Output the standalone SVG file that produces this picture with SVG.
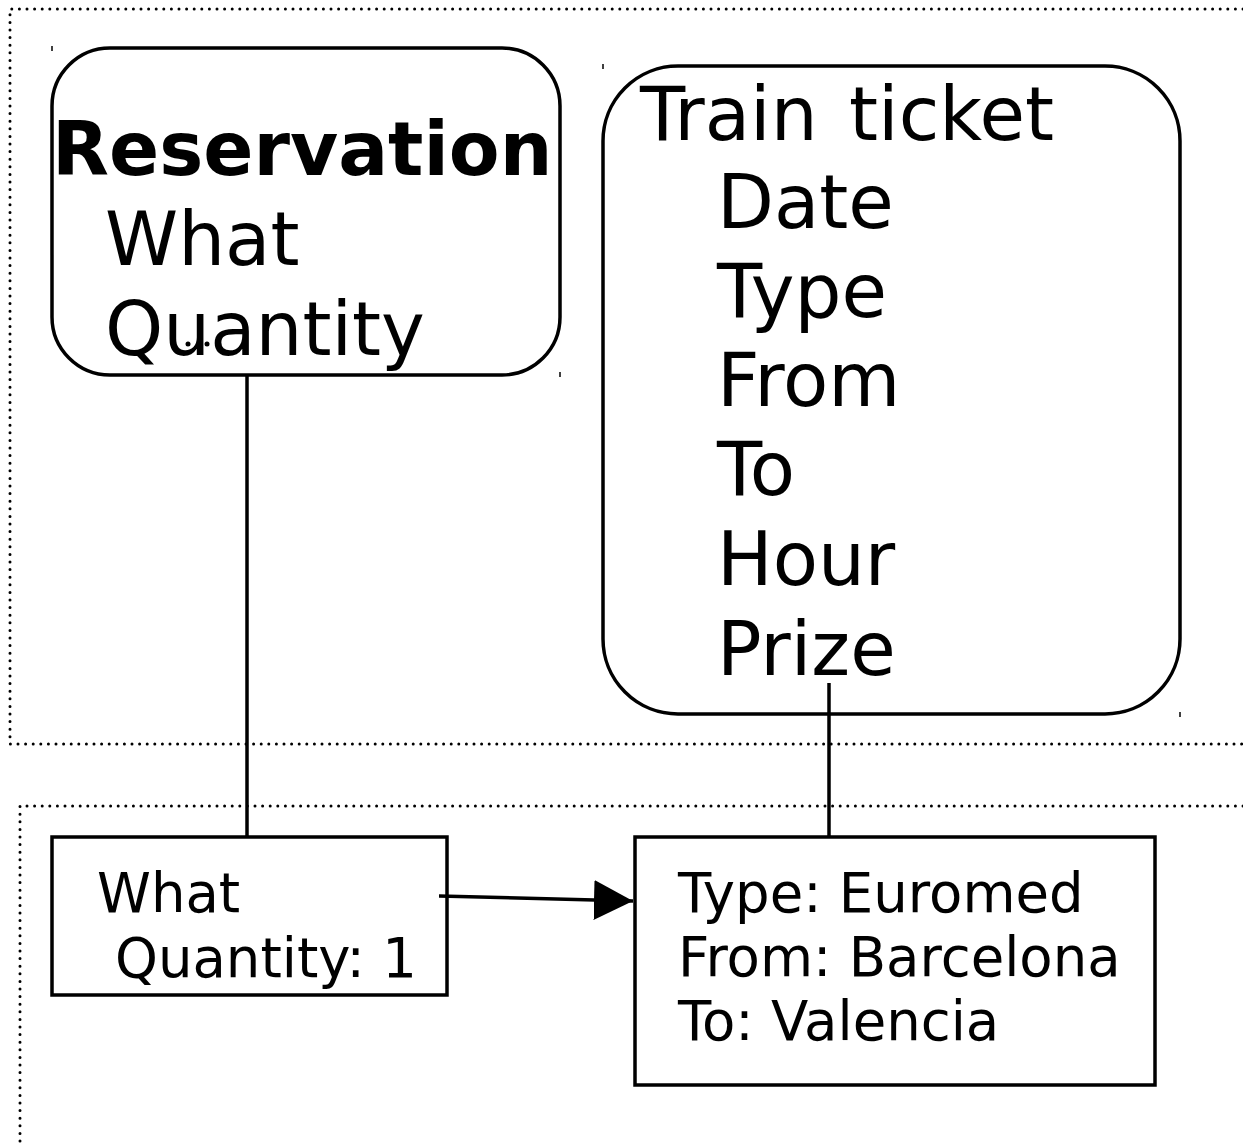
<svg xmlns="http://www.w3.org/2000/svg" width="1243" height="1143" viewBox="0 0 1243 1143">
<style>
.dot{fill:none;stroke:#000;stroke-width:3;stroke-linecap:round;stroke-dasharray:0 7.6}
.box{fill:#fff;stroke:#000;stroke-width:3.5}
.ln{fill:none;stroke:#000;stroke-width:3.5}
.tk{stroke:#000;stroke-width:1.5}
text{font-family:"DejaVu Sans","Verdana",sans-serif;fill:#000}
.big{font-size:74px}
.sm{font-size:54.5px}
</style>
<defs>
<marker id="ah" markerWidth="40" markerHeight="40" refX="39" refY="20" orient="auto" markerUnits="userSpaceOnUse">
<path d="M0,0 L39,20 L0,40 Z" fill="#000"/>
</marker>
</defs>
<rect width="1243" height="1143" fill="#fff"/>
<g id="regions">
<path class="dot" d="M1243,9 L10,9 L10,744 L1243,744"/>
<path class="dot" d="M1243,806 L20,806 L20,1143"/>
</g>
<g id="marks">
<line class="tk" x1="52" y1="46" x2="52" y2="51"/>
<line class="tk" x1="603" y1="64" x2="603" y2="69"/>
<line class="tk" x1="560" y1="372" x2="560" y2="377"/>
<line class="tk" x1="1180" y1="712" x2="1180" y2="717"/>
</g>
<g id="reservation">
<rect class="box" x="52" y="48" width="508" height="327" rx="58" ry="58"/>
<text x="52" y="175" class="big" font-weight="bold">Reservation</text>
<text x="105" y="265" class="big">What</text>
<text x="105" y="355" class="big">Quantity</text>
<circle cx="173" cy="344" r="2.5"/>
<circle cx="188" cy="344" r="2.5"/>
<circle cx="207" cy="344" r="2.5"/>
</g>
<g id="train-ticket">
<rect class="box" x="603" y="66" width="577" height="648" rx="75" ry="75"/>
<text x="640" y="140" class="big" word-spacing="8">Train ticket</text>
<text x="717" y="228" class="big">Date</text>
<text x="717" y="317" class="big">Type</text>
<text x="717" y="406" class="big">From</text>
<text x="717" y="495" class="big">To</text>
<text x="717" y="585" class="big">Hour</text>
<text x="717" y="675" class="big">Prize</text>
</g>
<g id="instance-reservation">
<rect class="box" x="52" y="837" width="395" height="158"/>
<text x="97" y="912" class="sm">What</text>
<text x="115" y="977" class="sm">Quantity: 1</text>
</g>
<g id="instance-ticket">
<rect class="box" x="635" y="837" width="520" height="248"/>
<text x="678" y="912" class="sm">Type: Euromed</text>
<text x="678" y="976" class="sm">From: Barcelona</text>
<text x="678" y="1040" class="sm">To: Valencia</text>
</g>
<g id="connectors">
<line class="ln" x1="247" y1="375" x2="247" y2="837"/>
<line class="ln" x1="829" y1="683" x2="829" y2="837"/>
<line class="ln" x1="439" y1="896" x2="633" y2="901" marker-end="url(#ah)"/>
</g>
</svg>
